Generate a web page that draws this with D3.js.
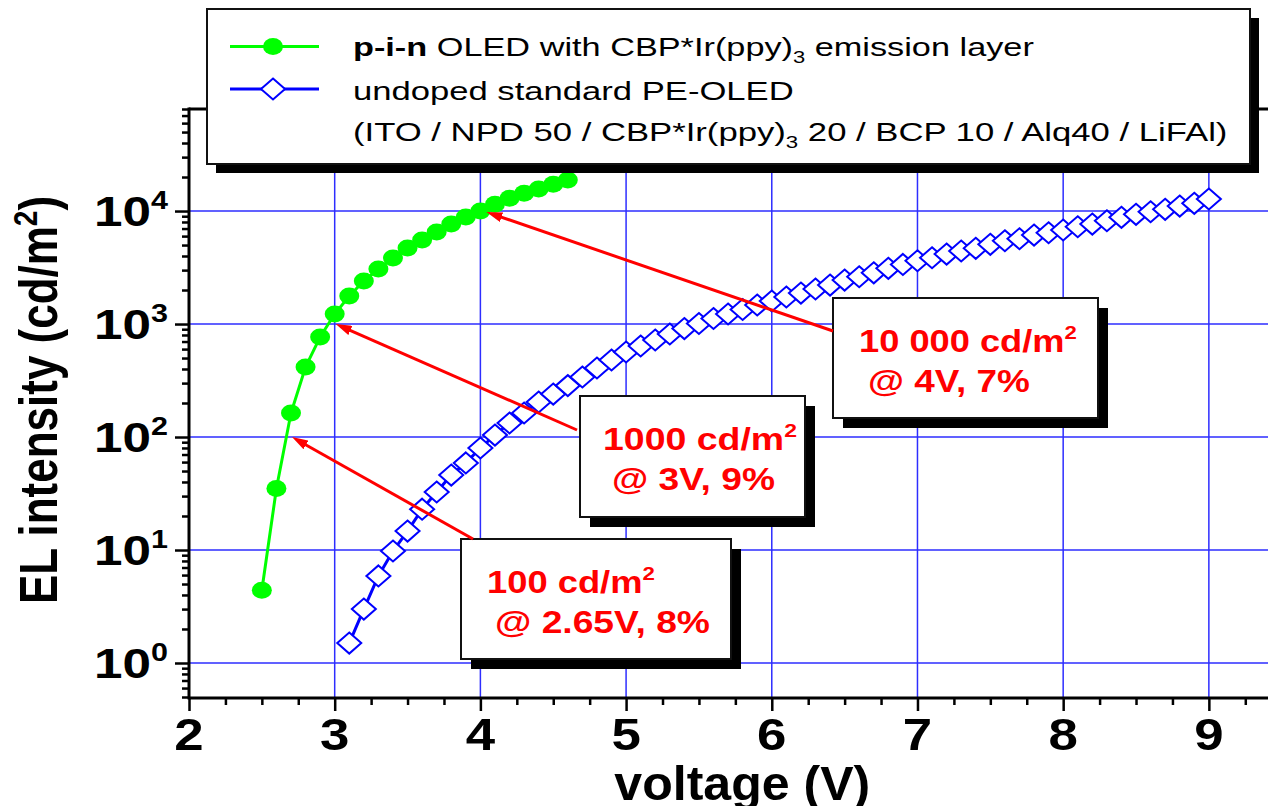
<!DOCTYPE html>
<html>
<head>
<meta charset="utf-8">
<script src="https://cdn.jsdelivr.net/npm/d3@7"></script>
<style>
  body { margin: 0; background: #fff; }
  svg { display: block; }
  text { font-family: "Liberation Sans", Arial, sans-serif; }
</style>
</head>
<body>
<svg id="chart" width="1268" height="806"></svg>
<script>
// p-i-n OLED (green, filled circles)
const pinVoltage = [2.5, 2.6, 2.7, 2.8, 2.9, 3.0, 3.1, 3.2, 3.3, 3.4, 3.5, 3.6, 3.7, 3.8, 3.9, 4.0, 4.1, 4.2, 4.3, 4.4, 4.5, 4.6];
const pinLum = [4.4, 35, 163, 417, 767, 1225, 1770, 2400, 3070, 3840, 4700, 5540, 6520, 7670, 8850, 10000, 11500, 13000, 14400, 15700, 17300, 18800];

// undoped standard PE-OLED (blue, open diamonds)
const stdVoltage = [3.1, 3.2, 3.3, 3.4, 3.5, 3.6, 3.7, 3.8, 3.9,
  4.0, 4.1, 4.2, 4.3, 4.4, 4.5, 4.6, 4.7, 4.8, 4.9,
  5.0, 5.1, 5.2, 5.3, 5.4, 5.5, 5.6, 5.7, 5.8, 5.9,
  6.0, 6.1, 6.2, 6.3, 6.4, 6.5, 6.6, 6.7, 6.8, 6.9,
  7.0, 7.1, 7.2, 7.3, 7.4, 7.5, 7.6, 7.7, 7.8, 7.9,
  8.0, 8.1, 8.2, 8.3, 8.4, 8.5, 8.6, 8.7, 8.8, 8.9, 9.0];
const stdLum = [1.5, 3.0, 5.9, 9.8, 14.7, 23, 32.6, 46, 59,
  80, 104, 133, 163, 204, 240, 285, 340, 408, 480,
  565, 639, 722, 816, 912, 1010, 1119, 1226, 1344, 1473,
  1599, 1734, 1880, 2040, 2210, 2450, 2620, 2840, 3110, 3370,
  3630, 3860, 4160, 4430, 4680, 5070, 5460, 5690, 6130, 6430,
  6790, 7260, 7670, 8200, 8790, 9350, 9860, 10350, 11070, 11700, 12770];

// axes
const xTickLabels = [2, 3, 4, 5, 6, 7, 8, 9];
const yTickExponents = [0, 1, 2, 3, 4];

// annotations
const annoLine1 = ["10 000 cd/m", "1000 cd/m", "100 cd/m"];
const annoLine2 = ["@ 4V, 7%", "@ 3V, 9%", "@ 2.65V, 8%"];
const annoVoltage = [4, 3, 2.7];
const annoLum = [10000, 1000, 100];

var svg = d3.select("#chart");

var plotLeft = 189, plotTop = 109, plotBottom = 698, plotRight = 1268;
var x = d3.scaleLinear().domain([2, 9.41]).range([plotLeft, 1268.6]);
var y = d3.scaleLog().domain([0.49, 80000]).range([plotBottom, plotTop]);

var gridColor = "#2d2dff";

function stretch(sel, ax, sx) {
  sel.attr("transform", `translate(${ax},0) scale(${sx},1) translate(${-ax},0)`);
}
function fitWidth(sel, w) {
  const b = sel.node().getBBox();
  stretch(sel, b.x, w / b.width);
}

// grid
svg.append("g")
  .selectAll("line")
  .data(xTickLabels.filter(d => d > 2))
  .join("line")
    .attr("x1", d => x(d)).attr("x2", d => x(d))
    .attr("y1", plotTop).attr("y2", plotBottom)
    .attr("stroke", gridColor).attr("stroke-width", 1.5);

svg.append("g")
  .selectAll("line")
  .data(yTickExponents)
  .join("line")
    .attr("x1", plotLeft).attr("x2", plotRight)
    .attr("y1", d => y(Math.pow(10, d))).attr("y2", d => y(Math.pow(10, d)))
    .attr("stroke", gridColor).attr("stroke-width", 1.5);

// data
var pinData = pinVoltage.map((v, i) => ({v: v, l: pinLum[i]}));
var stdData = stdVoltage.map((v, i) => ({v: v, l: stdLum[i]}));
var line = d3.line().x(d => x(d.v)).y(d => y(d.l));

svg.append("path")
  .datum(stdData)
  .attr("d", line)
  .attr("fill", "none").attr("stroke", "#0000ff").attr("stroke-width", 3);

var diamond = "M0,-10.5L12,0L0,10.5L-12,0Z";
svg.append("g")
  .selectAll("path")
  .data(stdData)
  .join("path")
    .attr("d", diamond)
    .attr("transform", d => `translate(${x(d.v)},${y(d.l)})`)
    .attr("fill", "#fff").attr("stroke", "#0000ff").attr("stroke-width", 2);

svg.append("path")
  .datum(pinData)
  .attr("d", line)
  .attr("fill", "none").attr("stroke", "#00ff00").attr("stroke-width", 3);

svg.append("g")
  .selectAll("ellipse")
  .data(pinData)
  .join("ellipse")
    .attr("cx", d => x(d.v)).attr("cy", d => y(d.l))
    .attr("rx", 10).attr("ry", 8.5)
    .attr("fill", "#00ff00");

// ticks
var yMinor = [];
for (var e = -1; e <= 4; e++) {
  for (var k = 2; k <= 9; k++) {
    var v = k * Math.pow(10, e);
    if (v >= 0.49 && v <= 80000) yMinor.push(v);
  }
}
var xMinor = [];
for (var t = 2; t <= 9.3; t += 0.25) {
  if (Math.abs(t - Math.round(t)) > 0.01) xMinor.push(t);
}

function styleTicks(g) {
  g.select(".domain").remove();
  g.selectAll(".tick line").attr("stroke", "#000").attr("stroke-width", 2.5);
  g.selectAll(".tick text").remove();
}

svg.append("g").attr("transform", `translate(${plotLeft},0)`)
  .call(d3.axisLeft(y).tickValues(yMinor).tickSize(7).tickFormat(""))
  .call(styleTicks);
svg.append("g").attr("transform", `translate(${plotLeft},0)`)
  .call(d3.axisLeft(y).tickValues(yTickExponents.map(d => Math.pow(10, d))).tickSize(14).tickFormat(""))
  .call(styleTicks);
svg.append("g").attr("transform", `translate(0,${plotBottom})`)
  .call(d3.axisBottom(x).tickValues(xMinor).tickSize(7).tickFormat(""))
  .call(styleTicks);
svg.append("g").attr("transform", `translate(0,${plotBottom})`)
  .call(d3.axisBottom(x).tickValues(xTickLabels).tickSize(13).tickFormat(""))
  .call(styleTicks);

// frame
svg.append("line").attr("x1", plotLeft).attr("x2", plotLeft).attr("y1", plotTop - 1.5).attr("y2", plotBottom + 1.5)
  .attr("stroke", "#000").attr("stroke-width", 3);
svg.append("line").attr("x1", plotLeft).attr("x2", plotRight).attr("y1", plotBottom).attr("y2", plotBottom)
  .attr("stroke", "#000").attr("stroke-width", 3);
svg.append("line").attr("x1", plotLeft).attr("x2", plotRight).attr("y1", plotTop).attr("y2", plotTop)
  .attr("stroke", "#000").attr("stroke-width", 3);

// tick labels
xTickLabels.forEach(function(d) {
  var t = svg.append("text")
    .attr("x", x(d)).attr("y", 750)
    .attr("text-anchor", "middle")
    .attr("font-size", 44).attr("font-weight", "bold")
    .text(d);
  stretch(t, x(d), 1.2);
});

yTickExponents.forEach(function(d) {
  var yy = y(Math.pow(10, d));
  var t = svg.append("text")
    .attr("x", 168).attr("y", yy + 15)
    .attr("text-anchor", "end")
    .attr("font-weight", "bold");
  t.append("tspan").attr("font-size", 42).text("10");
  t.append("tspan").attr("font-size", 25).attr("dy", -17).text(d);
  stretch(t, 168, 1.22);
});

// axis titles
var xl = svg.append("text")
  .attr("x", 737).attr("y", 800)
  .attr("text-anchor", "middle")
  .attr("font-size", 48).attr("font-weight", "bold")
  .text("voltage (V)");
fitWidth(xl, 256);

var yl = svg.append("text")
  .attr("transform", "translate(57,400) scale(1.2,1) rotate(-90)")
  .attr("text-anchor", "middle")
  .attr("font-size", 44).attr("font-weight", "bold");
yl.append("tspan").text("EL intensity (cd/m");
yl.append("tspan").attr("font-size", 28).attr("dy", -17).text("2");
yl.append("tspan").attr("dy", 17).text(")");

// legend
svg.append("rect").attr("x", 216).attr("y", 18).attr("width", 1043).attr("height", 155).attr("fill", "#000");
svg.append("rect").attr("x", 207).attr("y", 9).attr("width", 1043).attr("height", 155)
  .attr("fill", "#fff").attr("stroke", "#111").attr("stroke-width", 2);

svg.append("line").attr("x1", 230).attr("x2", 319).attr("y1", 46.5).attr("y2", 46.5)
  .attr("stroke", "#00ff00").attr("stroke-width", 3);
svg.append("ellipse").attr("cx", 273).attr("cy", 46.5).attr("rx", 10).attr("ry", 8.5).attr("fill", "#00ff00");
svg.append("line").attr("x1", 230).attr("x2", 319).attr("y1", 89).attr("y2", 89)
  .attr("stroke", "#0000ff").attr("stroke-width", 3);
svg.append("path").attr("d", diamond).attr("transform", "translate(273,89)")
  .attr("fill", "#fff").attr("stroke", "#0000ff").attr("stroke-width", 2);

var lg1 = svg.append("text").attr("x", 353).attr("y", 56).attr("font-size", 25);
lg1.append("tspan").attr("font-weight", "bold").text("p-i-n");
lg1.append("tspan").text(" OLED with CBP*Ir(ppy)");
lg1.append("tspan").attr("font-size", 16).attr("dy", 7).text("3");
lg1.append("tspan").attr("dy", -7).text(" emission layer");
fitWidth(lg1, 681);

var lg2 = svg.append("text").attr("x", 353).attr("y", 100).attr("font-size", 25)
  .text("undoped standard PE-OLED");
fitWidth(lg2, 441);

var lg3 = svg.append("text").attr("x", 353).attr("y", 141).attr("font-size", 25);
lg3.append("tspan").text("(ITO / NPD 50 / CBP*Ir(ppy)");
lg3.append("tspan").attr("font-size", 16).attr("dy", 7).text("3");
lg3.append("tspan").attr("dy", -7).text(" 20 / BCP 10 / Alq40 / LiFAl)");
fitWidth(lg3, 875);

// annotation boxes
var boxes = [
  {x: 833, y: 298, w: 265, h: 120, t1: 859, w1: 218, t2: 868, w2: 162, from: [833, 331], off: [6, 1]},
  {x: 580, y: 396, w: 225, h: 121, t1: 603, w1: 194, t2: 612, w2: 163, from: [577, 430], off: [1, 0]},
  {x: 461, y: 539, w: 270, h: 120, t1: 487, w1: 168, t2: 495, w2: 215, from: [473, 539], off: [1, 0]}
];

svg.append("defs").append("marker")
  .attr("id", "arrow")
  .attr("viewBox", "0 0 16 10")
  .attr("refX", 9).attr("refY", 5)
  .attr("markerWidth", 16).attr("markerHeight", 10)
  .attr("markerUnits", "userSpaceOnUse")
  .attr("orient", "auto")
  .append("path").attr("d", "M0,0L16,5L0,10Z").attr("fill", "#ff0000");

boxes.forEach(function(b, i) {
  svg.append("rect").attr("x", b.x + 10).attr("y", b.y + 10).attr("width", b.w).attr("height", b.h).attr("fill", "#000");
  svg.append("rect").attr("x", b.x).attr("y", b.y).attr("width", b.w).attr("height", b.h)
    .attr("fill", "#fff").attr("stroke", "#111").attr("stroke-width", 2);

  var a = svg.append("text").attr("x", b.t1).attr("y", b.y + 54)
    .attr("font-size", 31).attr("font-weight", "bold").attr("fill", "#ff0000");
  a.append("tspan").text(annoLine1[i]);
  a.append("tspan").attr("font-size", 19).attr("dy", -13).text("2");
  fitWidth(a, b.w1);

  var c = svg.append("text").attr("x", b.t2).attr("y", b.y + 94)
    .attr("font-size", 31).attr("font-weight", "bold").attr("fill", "#ff0000")
    .text(annoLine2[i]);
  fitWidth(c, b.w2);

  // arrow to the data point, line stops short so the head forms the tip
  var tx = x(annoVoltage[i]) + b.off[0], ty = y(annoLum[i]) + b.off[1];
  var dx = tx - b.from[0], dy = ty - b.from[1];
  var len = Math.sqrt(dx * dx + dy * dy);
  svg.append("line")
    .attr("x1", b.from[0]).attr("y1", b.from[1])
    .attr("x2", tx - dx / len * 7).attr("y2", ty - dy / len * 7)
    .attr("stroke", "#ff0000").attr("stroke-width", 3)
    .attr("marker-end", "url(#arrow)");
});
</script>
</body>
</html>
